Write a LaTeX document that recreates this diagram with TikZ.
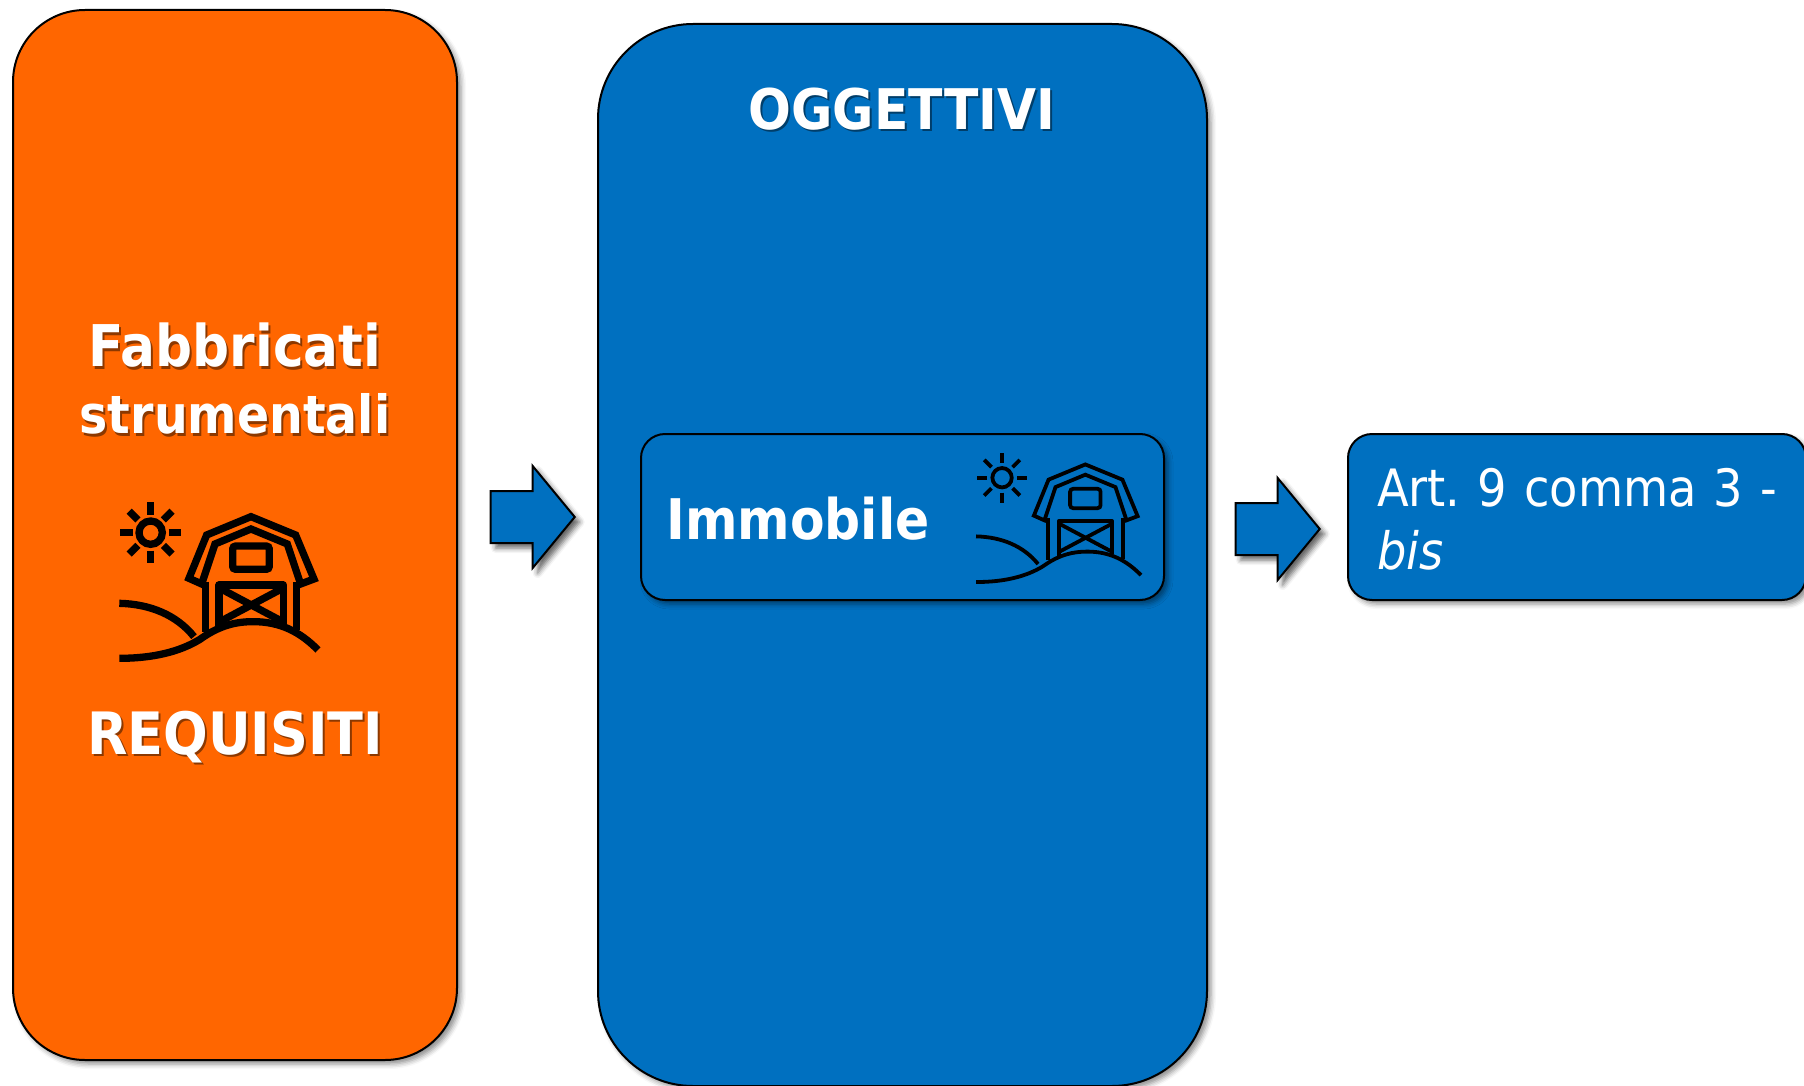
\documentclass[tikz,border=0pt]{standalone}
\usepackage{fontspec}
\setmainfont{DejaVu Sans Condensed}
\usetikzlibrary{shapes.arrows,shadows.blur}
\definecolor{boxblue}{HTML}{0070C0}
\definecolor{boxorange}{HTML}{FF6600}
\newcommand{\castshadow}[2]{\leavevmode\rlap{\hspace{2pt}\raisebox{-2.5pt}{\textcolor{#1}{#2}}}#2}
\newcommand{\headsize}[1]{\fontsize{#1}{67}\selectfont\bfseries}
\tikzset{
    barnicon/.pic={
        \draw (182,158) circle (35);
        \foreach \a in {0,45,...,315} {\draw (182,158) ++(\a:54) -- ++(\a:37);}
        \draw[line join=miter] (297,295) -- (350,165) -- (483,110) -- (617,165) -- (672,297) -- (632,312) -- (592,192) -- (483,147) -- (375,192) -- (335,312) -- cycle;
        \draw (347,305) -- (347,455);
        \draw (620,305) -- (620,450);
        \draw[rounded corners=3] (428,198) rectangle (538,268);
        \draw[line join=round] (387,440) -- (387,315) -- (580,315) -- (580,432);
        \draw (390,425) -- (578,325);
        \draw (390,325) -- (578,425);
        \draw (88,370) .. controls (180,372) and (260,405) .. (312,470);
        \draw (88,535) .. controls (190,535) and (270,515) .. (330,478) .. controls (390,435) and (440,425) .. (490,425) .. controls (570,425) and (630,455) .. (684,510);
    }
}
\begin{document}
\begin{tikzpicture}[x=1pt, y=-1pt,
        panel/.style = {shape=rectangle, draw=black, line width=2pt, inner sep=0pt,
            blur shadow={shadow xshift=4pt, shadow yshift=-4pt, shadow blur radius=5pt, shadow opacity=45}},
        pointer/.style = {shape=single arrow, draw=black, fill=boxblue, line width=2pt, inner xsep=0pt, inner ysep=25pt,
            minimum height=84pt, single arrow head extend=25pt,
            single arrow tip angle=101, single arrow head indent=0pt,
            blur shadow={shadow xshift=5pt, shadow yshift=-5pt, shadow blur radius=5pt, shadow opacity=60}},
        heading/.style = {text=white, align=center, font=\headsize{56}}]
    \useasboundingbox (0,0) rectangle (1804,1086);

    \node[panel, fill=boxorange, rounded corners=72pt, minimum width=444pt, minimum height=1050pt] (req) at (235,535) {};
    \node[panel, fill=boxblue, rounded corners=95pt, minimum width=609pt, minimum height=1062pt] (ogg) at (902.5,555) {};
    \node[panel, fill=boxblue, rounded corners=24pt, minimum width=523pt, minimum height=166pt] (imm) at (902.5,517) {};
    \node[panel, fill=boxblue, rounded corners=24pt, minimum width=458pt, minimum height=166pt, text width=420pt,
        align=left, text=white, font=\fontsize{51.5}{63}\selectfont\frenchspacing] (art) at (1577,517) {\hspace*{10pt}\rule{0pt}{42pt}Art. 9 comma 3 -\\\hspace*{10pt}\textit{bis}};

    \node[pointer] (first) at (522,517) {};
    \node[pointer] (second) at (1267,529) {};

    \node[heading] (fab) at (235,380) {{\headsize{57.5}\castshadow{boxorange!55!black}{Fabbricati}}\\{\headsize{52.7}\castshadow{boxorange!55!black}{strumentali}}};
    \node[heading, font=\headsize{58.4}] (reqlabel) at (235,738) {\castshadow{boxorange!55!black}{REQUISITI}};
    \node[heading] (ogglabel) at (902,110) {\castshadow{boxblue!55!black}{OGGETTIVI}};
    \node[heading] (immlabel) at (798,519) {Immobile};

    \pic[scale=0.3333, line width=7.3pt] at (90,480) {barnicon};
    \pic[scale=0.2767, line width=3.8pt] at (951.7,434) {barnicon};
\end{tikzpicture}
\end{document}
